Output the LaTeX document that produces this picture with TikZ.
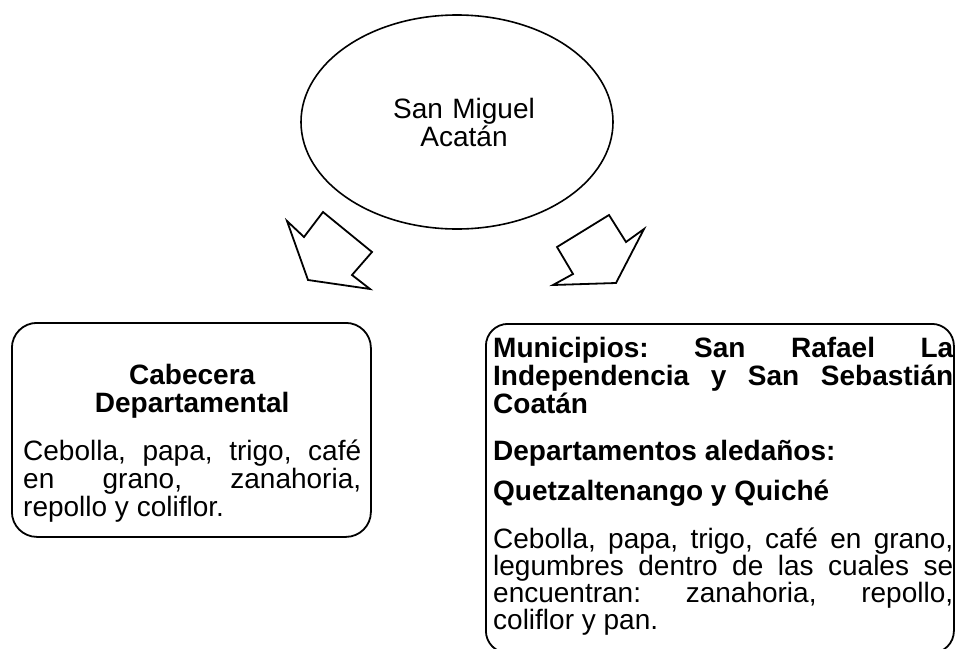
\documentclass[tikz,border=0pt]{standalone}
\usepackage{fontspec}
\setmainfont{Liberation Sans}
\usetikzlibrary{shapes.geometric}
\frenchspacing
\begin{document}
\begin{tikzpicture}[x=1pt,y=-1pt,
  shapeline/.style={draw=black, line width=1.8pt, line join=miter},
  roundbox/.style={shapeline, rectangle, inner sep=0pt, anchor=north west},
  bodytext/.style={anchor=base west, inner sep=0pt, align=justify,
    font=\fontsize{28}{27}\selectfont},
  headtext/.style={anchor=base west, inner sep=0pt, align=justify,
    font=\fontsize{28}{28}\selectfont\bfseries}]
\useasboundingbox (0,0) rectangle (955,648);
\clip (0,0) rectangle (955,648);

% central ellipse
\node[draw=black, line width=1.6pt, ellipse, minimum width=312pt, minimum height=214pt,
  inner sep=0pt] (root) at (457,122) {};
\node[anchor=north, inner sep=0pt, align=center, text width=200pt,
  font=\fontsize{28}{28.3}\selectfont] (roottext) at (464,98)
  {San Miguel\\Acat\'an};

% block arrows
\draw[shapeline] (287,221) -- (304,237) -- (323,212) -- (372,252) -- (352,275)
  -- (370,289) -- (308,280) -- cycle;
\draw[shapeline] (609,215) -- (626,242) -- (644,229) -- (616,283) -- (553,285)
  -- (573,274) -- (557,247) -- cycle;

% left box
\node[roundbox, rounded corners=25pt, minimum width=359pt, minimum height=214pt]
  (leftbox) at (11,322) {};
\node[headtext, align=center, text width=338pt] (lefttitle) at (23,384)
  {Cabecera\\Departamental};
\node[bodytext, text width=338pt, font=\fontsize{28}{28}\selectfont] (leftbody) at (23,460)
  {Cebolla, papa, trigo, caf\'e\linebreak en grano, zanahoria,\linebreak repollo y coliflor.};

% right box
\node[roundbox, rounded corners=22pt, minimum width=468pt, minimum height=329pt]
  (rightbox) at (485,323) {};
\node[headtext, text width=460pt] (muni) at (493,357)
  {Municipios: San Rafael La\linebreak Independencia y San Sebasti\'an\linebreak Coat\'an};
\node[headtext, text width=460pt] (deps) at (493,460)
  {Departamentos aleda\~nos:};
\node[headtext, text width=460pt] (quetz) at (493,500)
  {Quetzaltenango y Quich\'e};
\node[bodytext, text width=460pt] (rightbody) at (493,548)
  {Cebolla, papa, trigo, caf\'e en grano,\linebreak legumbres dentro de las cuales se\linebreak encuentran: zanahoria, repollo,\linebreak coliflor y pan.};
\end{tikzpicture}
\end{document}
